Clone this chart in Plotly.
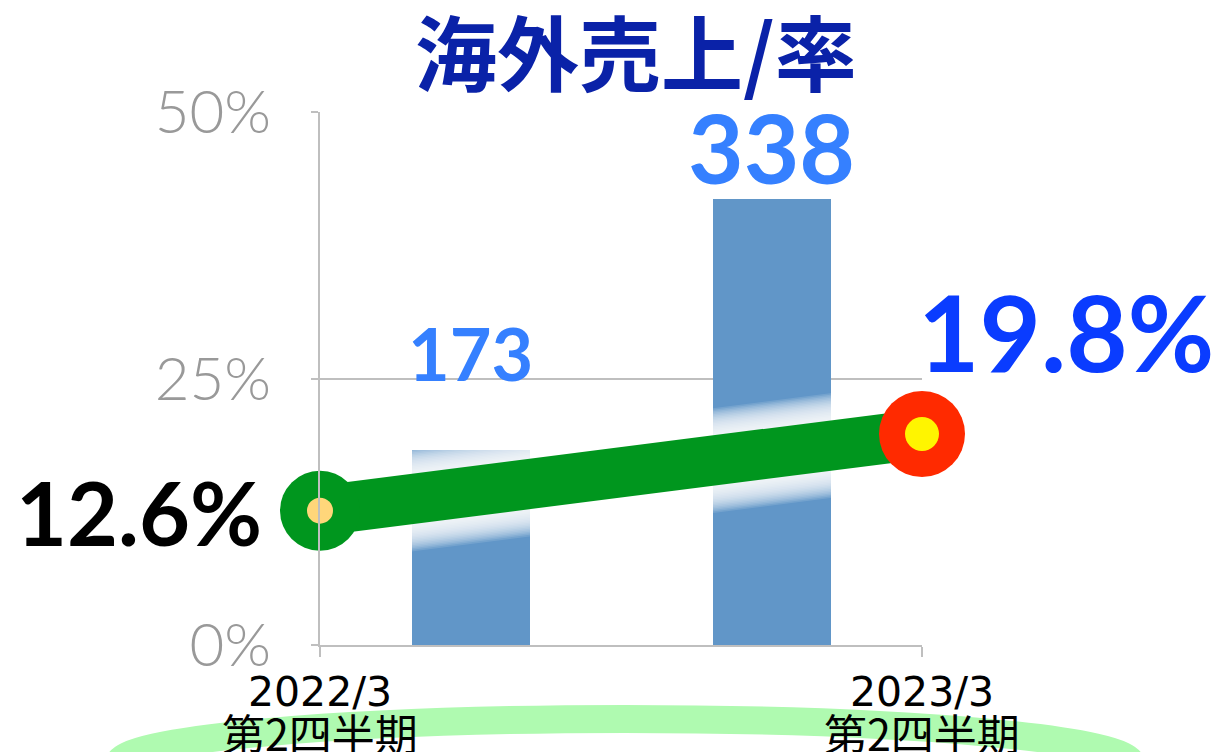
import plotly.graph_objects as go

# ---- data ----
years = ["2022/3", "2023/3"]
periods = ["第2四半期", "第2四半期"]
sales = [173, 338]            # 海外売上
ratio = [12.6, 19.8]          # 海外売上率 (%)
ratio_labels = ["12.6%", "19.8%"]
y_ticks = [0, 25, 50]
y_tick_labels = ["0%", "25%", "50%"]
title_text = "海外売上/率"

# ---- geometry helpers (layout only) ----
L, R, T, B = 320, 300, 112, 107
W, H = 1222, 752
pw, ph = W - L - R, H - T - B

def px(x):
    return (x - L) / pw

def py(y):
    return (H - B - y) / ph

bar_x = [0.25, 0.75]
line_x = [0.0, 1.0]

fig = go.Figure()

# bars (primary, hidden axis)
fig.add_trace(go.Bar(
    x=bar_x, y=sales, width=0.196, marker=dict(color="#6196C8", line=dict(width=0)),
    yaxis="y", xaxis="x", showlegend=False, hoverinfo="skip",
))

# soft white glow beneath the line
for w in range(104, 50, -3):
    fig.add_trace(go.Scatter(
        x=line_x, y=ratio, mode="lines", yaxis="y2",
        line=dict(color="white", width=w), opacity=0.12,
        showlegend=False, hoverinfo="skip", cliponaxis=False,
    ))

# green line
fig.add_trace(go.Scatter(
    x=line_x, y=ratio, mode="lines", yaxis="y2",
    line=dict(color="#00961E", width=50),
    showlegend=False, hoverinfo="skip", cliponaxis=False,
))
# outer markers
fig.add_trace(go.Scatter(
    x=line_x, y=ratio, mode="markers", yaxis="y2",
    marker=dict(size=[80, 86], color=["#00961E", "#FF2A00"], line=dict(width=0), opacity=1),
    showlegend=False, hoverinfo="skip", cliponaxis=False,
))
# inner markers
fig.add_trace(go.Scatter(
    x=line_x, y=ratio, mode="markers", yaxis="y2",
    marker=dict(size=[26, 34], color=["#FFD67A", "#FFF500"], line=dict(width=0), opacity=1),
    showlegend=False, hoverinfo="skip", cliponaxis=False,
))

annotations = []
# ratio labels
annotations.append(dict(
    x=line_x[0], y=ratio[0], xref="x", yref="y2", text=ratio_labels[0],
    showarrow=False, xanchor="right", yanchor="middle", xshift=-56, yshift=-1,
    font=dict(family="Lato", size=88, color="#000000", weight="bold"),
))
annotations.append(dict(
    x=line_x[1], y=ratio[1], xref="x", yref="y2", text=ratio_labels[1],
    showarrow=False, xanchor="left", yanchor="middle", xshift=-6, yshift=103,
    font=dict(family="Lato", size=106, color="#0A3CFF", weight="bold"),
))
# sales labels
sales_shift = [97, 52]
sales_size = [72, 96]
for bx, v, s, fs in zip(bar_x, sales, sales_shift, sales_size):
    annotations.append(dict(
        x=bx, y=v, xref="x", yref="y", text=str(v), showarrow=False,
        xanchor="center", yanchor="middle", yshift=s,
        font=dict(family="Lato", size=fs, color="#3580FF", weight="bold"),
    ))
# second line of category labels
for lx, p in zip(line_x, periods):
    annotations.append(dict(
        x=lx, y=py(732), xref="x", yref="paper", text=p, showarrow=False,
        xanchor="center", yanchor="middle",
        font=dict(family="Noto Sans CJK JP", size=43, color="#000000"),
    ))
# title
annotations.append(dict(
    x=px(636), y=py(49), xref="paper", yref="paper", text=title_text,
    showarrow=False, xanchor="center", yanchor="middle",
    font=dict(family="Noto Sans CJK JP", size=82, color="#0A22A8", weight="bold"),
))

# decorative green elliptical band at the bottom
shapes = [dict(
    type="circle", xref="paper", yref="paper",
    x0=px(119), x1=px(1131), y0=py(809), y1=py(719),
    line=dict(color="#AFFAB0", width=28), fillcolor="rgba(0,0,0,0)", layer="below",
)]

fig.update_layout(
    width=W, height=H,
    margin=dict(l=L, r=R, t=T, b=B, pad=0, autoexpand=False),
    paper_bgcolor="white", plot_bgcolor="rgba(0,0,0,0)",
    showlegend=False,
    bargap=0,
    xaxis=dict(
        range=[0, 1], tickvals=line_x, ticktext=years,
        showgrid=False, zeroline=False, automargin=False,
        showline=True, linecolor="#BFBFBF", linewidth=2,
        ticks="outside", ticklen=10, tickcolor="#BFBFBF", tickwidth=2,
        ticklabelstandoff=0,
        tickfont=dict(family="DejaVu Sans", size=41, color="#000000"),
    ),
    yaxis=dict(
        range=[45, 395], visible=False, showgrid=False, zeroline=False,
        automargin=False,
    ),
    yaxis2=dict(
        range=[0, 50], overlaying="y", side="left",
        tickvals=y_ticks, ticktext=y_tick_labels,
        showgrid=True, gridcolor="#BFBFBF", gridwidth=2,
        zeroline=False, automargin=False,
        showline=True, linecolor="#BFBFBF", linewidth=2,
        ticks="outside", ticklen=7, tickcolor="#BFBFBF", tickwidth=2,
        ticklabelstandoff=28,
        tickfont=dict(family="Lato", size=60, color="#999999", weight=300),
    ),
    annotations=annotations,
    shapes=shapes,
)

fig.write_html("out.html", post_script="document.body.style.margin='0';",
               config={"displayModeBar": False})
